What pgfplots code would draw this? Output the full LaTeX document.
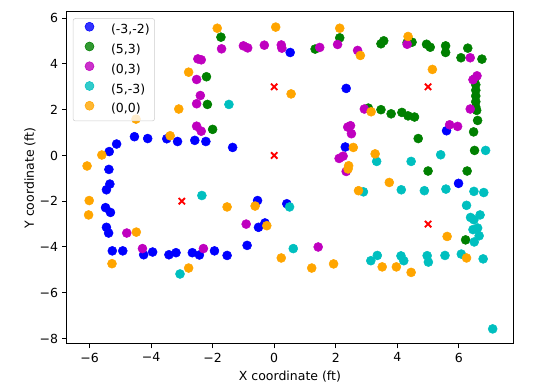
\documentclass[border=0pt]{standalone}
\usepackage{fontspec}
\setmainfont{DejaVu Sans}
\usepackage{pgfplots}
\pgfplotsset{compat=1.18}
\usetikzlibrary{calc}
\definecolor{mplb}{RGB}{0,0,255}
\definecolor{mplg}{RGB}{0,128,0}
\definecolor{mplm}{RGB}{191,0,191}
\definecolor{mplc}{RGB}{0,191,191}
\definecolor{mplo}{RGB}{255,165,0}
\begin{document}
\fontsize{10}{12}\selectfont
\begin{tikzpicture}
\begin{axis}[
  scale only axis, width=357pt, height=265.6pt,
  xmin=-6.74, xmax=7.76, ymin=-8.24, ymax=6.27,
  xtick={-6,-4,...,6}, xticklabels={−6,−4,−2,0,2,4,6},
  ytick={-8,-6,...,6}, yticklabels={−8,−6,−4,−2,0,2,4,6},
  tick align=outside, major tick length=3.5pt,
  every tick/.style={black, line width=0.8pt},
  axis line style={line width=0.8pt},
  xtick pos=bottom, ytick pos=left,
  tick label style={font=\fontsize{10}{12}\selectfont},
  xlabel={X coordinate (ft)}, ylabel={Y coordinate (ft)},
  label style={font=\fontsize{10}{12}\selectfont},
  xlabel style={at={(axis description cs:0.5,-0.1114)}, anchor=base},
  ylabel style={at={(axis description cs:-0.0824,0.5)}, anchor=center},
  legend cell align=left,
  legend style={at={(axis description cs:0,1)}, anchor=north west, xshift=4.8pt, yshift=-5pt,
    draw=black!20, rounded corners=2pt, fill=white, fill opacity=0.8, text opacity=1,
    font=\fontsize{10}{12}\selectfont, row sep=3pt, inner xsep=3pt, inner ysep=3pt,
    nodes={inner sep=1pt, text height=7.5pt, text depth=2.5pt}},
  legend image code/.code={\path (0pt,0pt) (26pt,0pt); \draw[#1,mark repeat=1] plot coordinates {(10pt,3.2pt)};},
  every axis plot/.append style={only marks, mark=*, mark size=3.6pt},
]
\addplot[mplb, mark options={draw=mplb, fill=mplb}] coordinates {
(-4.54,0.82) (-4.11,0.74) (-3.49,0.73) (-3.14,0.61) (-5.12,0.50) (-5.36,0.17) (-5.37,-0.61)
(-2.58,0.66) (-2.22,0.61) (-1.35,0.35) (0.52,4.50) (2.34,2.93) (2.31,0.37) (5.60,1.08) (5.99,-1.22)
(-5.34,-1.25) (-5.45,-1.50) (-5.48,-2.28) (-5.32,-2.49) (-5.45,-3.14) (-5.38,-3.39) (-5.26,-4.17)
(-4.92,-4.17) (-4.24,-4.34) (-3.95,-4.22) (-3.42,-4.34) (-3.19,-4.25) (-0.54,-1.97) (0.41,-2.11)
(-0.30,-2.95) (-0.51,-3.14) (-2.66,-4.25) (-2.43,-4.35) (-1.94,-4.17) (-1.53,-4.37) (-0.88,-3.93)
};
\addlegendentry{(-3,-2)}
\addplot[mplg, mark options={draw=mplg, fill=mplg}] coordinates {
(-1.73,5.17) (-2.20,3.44) (-2.17,2.23) (-2.00,1.14) (2.13,5.14) (1.33,4.65) (3.47,4.88) (3.56,5.01)
(4.32,4.93) (4.48,4.95) (4.95,4.86) (5.07,4.73) (5.57,4.79) (5.57,4.50) (6.29,4.69) (6.07,4.27)
(6.75,4.21) (3.06,2.07) (3.47,2.00) (3.80,1.82) (4.15,1.88) (4.35,1.73) (4.56,1.68) (6.52,3.35)
(6.55,3.09) (6.55,2.85) (6.55,2.60) (6.55,2.35) (6.55,2.12) (6.58,1.97) (6.61,1.53) (6.48,1.03)
(4.68,0.74) (6.51,0.22) (5.00,-0.68) (6.27,-0.68) (6.22,-3.69)
};
\addlegendentry{(5,3)}
\addplot[mplm, mark options={draw=mplm, fill=mplm}] coordinates {
(-1.71,4.66) (-1.00,4.79) (-0.86,4.70) (-0.32,4.82) (0.23,4.83) (0.25,4.69) (-2.48,4.22) (-2.37,4.18)
(-2.52,3.32) (-2.40,2.62) (-2.52,2.26) (-2.52,1.28) (-2.37,1.06) (2.06,4.85) (1.48,4.72) (2.71,4.59)
(4.32,4.86) (6.37,4.27) (6.59,3.48) (6.46,3.31) (6.37,2.03) (5.70,1.34) (5.96,1.27) (2.93,2.03)
(2.39,1.24) (2.48,1.30) (2.51,0.95) (2.11,-0.13) (2.24,-0.03) (2.34,-0.70) (-4.79,-3.39) (-4.28,-4.07)
(-0.91,-3.00) (-2.30,-4.07) (1.43,-4.00)
};
\addlegendentry{(0,3)}
\addplot[mplc, mark options={draw=mplc, fill=mplc}] coordinates {
(-1.47,2.23) (3.33,-0.26) (6.87,0.22) (5.41,0.03) (4.45,-0.26) (-3.06,-5.18) (-2.35,-1.75) (0.50,-2.25)
(0.62,-4.07) (2.90,-1.59) (4.13,-1.50) (4.88,-1.54) (5.58,-1.47) (6.49,-1.57) (6.81,-1.62) (6.25,-2.18)
(6.38,-2.71) (6.49,-2.81) (6.69,-2.60) (6.46,-3.24) (6.61,-3.17) (6.66,-3.51) (6.50,-3.78) (3.14,-4.60)
(3.35,-4.37) (4.12,-4.39) (4.21,-4.60) (4.97,-4.38) (5.01,-4.66) (5.55,-4.37) (6.08,-4.31) (6.79,-4.52)
(7.10,-7.58)
};
\addlegendentry{(5,-3)}
\addplot[mplo, mark options={draw=mplo, fill=mplo}] coordinates {
(-3.10,2.03) (-4.49,1.59) (-3.38,0.86) (-5.60,0.02) (-6.08,-0.46) (-1.85,5.56) (0.05,5.61) (-2.78,3.64)
(0.55,2.69) (2.13,5.56) (2.80,4.37) (4.35,5.20) (5.14,3.76) (3.15,1.91) (2.57,0.35) (3.28,0.07)
(2.42,-0.45) (2.40,-0.59) (3.74,-1.18) (2.74,-1.54) (-6.01,-1.97) (-6.03,-2.60) (-4.48,-3.35) (-5.27,-4.73)
(-1.53,-2.25) (-0.62,-2.21) (-0.24,-3.07) (-2.78,-4.92) (0.23,-4.48) (1.22,-4.92) (1.93,-4.74) (3.51,-4.87)
(3.97,-4.87) (5.62,-3.54) (6.25,-4.48) (4.45,-5.11)
};
\addlegendentry{(0,0)}
\addplot[red, forget plot, mark=x, mark size=3.6pt, mark options={line width=1.5pt}] coordinates {
(-3,-2) (0,0) (0,3) (5,3) (5,-3)
};
\end{axis}
\pgfresetboundingbox
\path ($(current axis.south west)+(-53.4pt,-33.6pt)$) rectangle ($(current axis.north east)+(20.8pt,9.6pt)$);
\end{tikzpicture}
\end{document}
